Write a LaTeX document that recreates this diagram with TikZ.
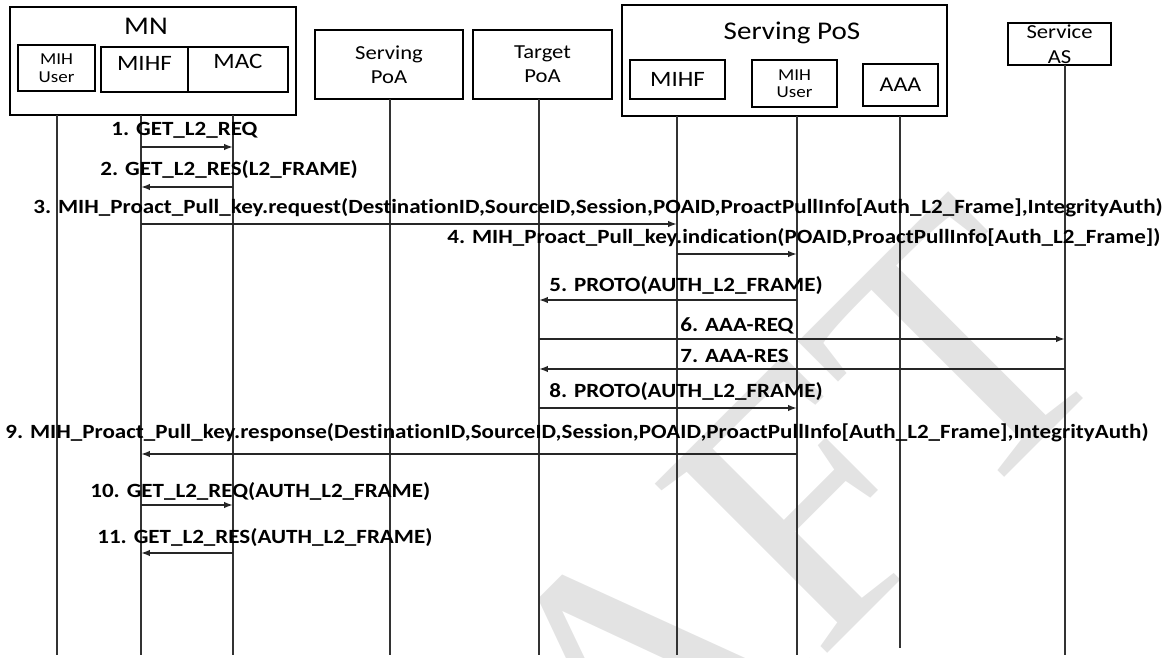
\documentclass[tikz,border=0pt]{standalone}
\usepackage{fontspec}
\setmainfont{Carlito}[FakeStretch=1.14, Ligatures=NoCommon]
\newfontfamily\stampfont{Liberation Serif}
\usetikzlibrary{arrows.meta}

\begin{document}
\begin{tikzpicture}[
            x=0.02cm, y=-0.02cm,
            entity/.style={rectangle, draw, line width=1.6pt, inner sep=0pt, align=center},
            group/.style={rectangle, draw, line width=1.4pt, inner sep=0pt},
            title/.style={inner sep=0pt, font=\fontsize{14.5}{16}\selectfont},
            small/.style={font=\fontsize{9.5}{10}\selectfont},
            mid/.style={font=\fontsize{11.3}{13.6}\selectfont},
            big/.style={font=\fontsize{12.5}{15}\selectfont},
            lifeline/.style={draw=black!80, line width=0.6pt},
            msg/.style={-{Latex[length=5pt,width=3.6pt]}, line width=0.9pt, draw=black!85},
            msglabel/.style={anchor=west, inner sep=0pt, font=\bfseries\fontsize{11.5}{13}\selectfont}
            ]
            \useasboundingbox (0,0) rectangle (1163,658);

            % draft stamp behind everything
            \begin{scope}
                \clip (0,0) rectangle (1163,658);
                \node[text=black!11, inner sep=0pt, rotate=45, font=\stampfont\fontsize{210}{210}\selectfont] (stamp) at (610,700) {DRAFT};
            \end{scope}

            % MN with its three entities
            \node[group, minimum width=5.72cm, minimum height=2.16cm] (mn) at (153,61) {};
            \node[title] (mntitle) at (146,26) {MN};
            \node[entity, small, minimum width=1.54cm, minimum height=0.92cm] (mnuser) at (56.5,68) {MIH\\User};
            \node[entity, big, minimum width=1.74cm, minimum height=0.9cm, text depth=0.26cm] (mnmihf) at (144.5,69.5) {MIHF};
            \node[entity, big, minimum width=2cm, minimum height=0.9cm, text depth=0.34cm] (mnmac) at (238,69.5) {MAC};

            % points of attachment
            \node[entity, mid, minimum width=2.96cm, minimum height=1.38cm] (spoa) at (389,64.5) {Serving\\PoA};
            \node[entity, mid, minimum width=2.78cm, minimum height=1.38cm] (tpoa) at (542.5,64.5) {Target\\PoA};

            % Serving PoS with its three entities
            \node[group, minimum width=6.5cm, minimum height=2.22cm] (pos) at (784.5,60.5) {};
            \node[title] (postitle) at (792,33) {Serving PoS};
            \node[entity, big, minimum width=1.9cm, minimum height=0.78cm] (posmihf) at (677.5,79.5) {MIHF};
            \node[entity, small, minimum width=1.7cm, minimum height=0.94cm] (posuser) at (794.5,83.5) {MIH\\User};
            \node[entity, font=\fontsize{12}{14}\selectfont, minimum width=1.5cm, minimum height=0.84cm] (aaa) at (900.5,85) {AAA};

            \node[entity, font=\fontsize{11.3}{14}\selectfont, minimum width=2.06cm, minimum height=0.84cm] (sas) at (1059.5,44) {Service\\AS};

            % Lifelines
            \foreach \name/\x/\top/\bot in {user/57/115/655, mihf/141/115/655, mac/233/115/655,
                                            spoa/390/99/655, tpoa/539/99/655,
                                            pmihf/677/116/655, puser/797/116/655, paaa/900/116/648,
                                            sas/1065/65/655} {
                \coordinate (\name-top) at (\x,\top);
                \coordinate (\name-bot) at (\x,\bot);
                \draw[lifeline] (\name-top) -- (\name-bot);
            }

            % Messages
            \foreach \from/\to/\y in {mihf/mac/147, mac/mihf/187, mihf/pmihf/224, pmihf/puser/254,
                                      puser/tpoa/300, tpoa/sas/339, sas/tpoa/369, tpoa/puser/408,
                                      puser/mihf/454, mihf/mac/505, mac/mihf/553} {
                \draw[msg] (\from-top |- 0,\y) -- (\to-top |- 0,\y);
            }

            % Message labels
            \node[msglabel] (m1) at (111,130) {1. GET\_L2\_REQ};
            \node[msglabel] (m2) at (100,170) {2. GET\_L2\_RES(L2\_FRAME)};
            \node[msglabel] (m3) at (33,208) {3. MIH\_Proact\_Pull\_key.request(DestinationID,SourceID,Session,POAID,ProactPullInfo[Auth\_L2\_Frame],IntegrityAuth)};
            \node[msglabel] (m4) at (447,238) {4. MIH\_Proact\_Pull\_key.indication(POAID,ProactPullInfo[Auth\_L2\_Frame])};
            \node[msglabel] (m5) at (549,286) {5. PROTO(AUTH\_L2\_FRAME)};
            \node[msglabel] (m6) at (680,326) {6. AAA-REQ};
            \node[msglabel] (m7) at (680,356) {7. AAA-RES};
            \node[msglabel] (m8) at (549,392) {8. PROTO(AUTH\_L2\_FRAME)};
            \node[msglabel] (m9) at (5,433) {9. MIH\_Proact\_Pull\_key.response(DestinationID,SourceID,Session,POAID,ProactPullInfo[Auth\_L2\_Frame],IntegrityAuth)};
            \node[msglabel] (m10) at (90,492) {10. GET\_L2\_REQ(AUTH\_L2\_FRAME)};
            \node[msglabel] (m11) at (97,538) {11. GET\_L2\_RES(AUTH\_L2\_FRAME)};

        \end{tikzpicture}
\end{document}
